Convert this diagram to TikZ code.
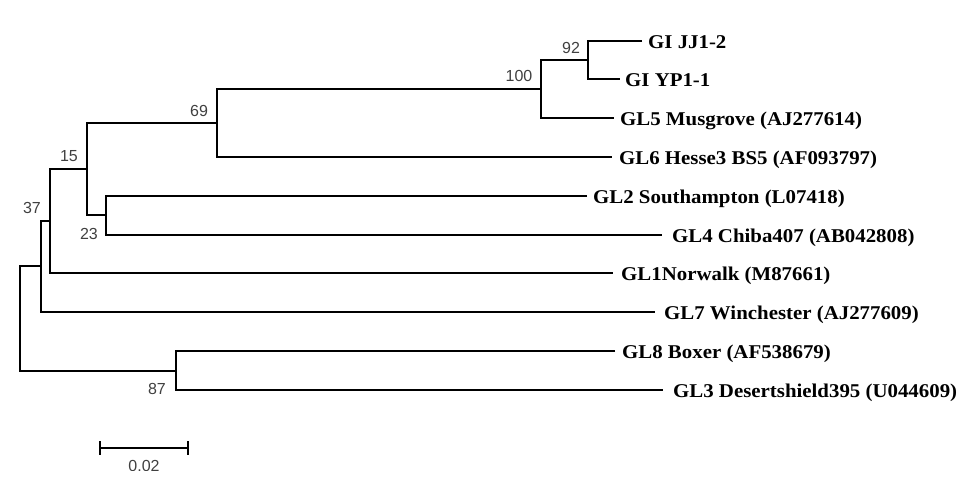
\documentclass[tikz,border=0pt]{standalone}
\usepackage{fontspec}
\setmainfont{Liberation Serif}
\newfontfamily\tipfont[FakeStretch=1.07]{Liberation Serif}
\newfontfamily\bootfont{Liberation Sans}
\begin{document}
\begin{tikzpicture}[x=1bp,y=-1bp,
  branch/.style={line width=2bp,line join=miter},
  tiplabel/.style={anchor=base west,inner sep=0pt,font=\tipfont\bfseries\fontsize{19.5bp}{20bp}\selectfont},
  boot/.style={inner sep=0pt,text=black!75,font=\bootfont\fontsize{16bp}{17bp}\selectfont}]
\useasboundingbox (0,0) rectangle (976,485);
% tips
\coordinate (tJJ) at (642,41);
\coordinate (tYP) at (620,79);
\coordinate (tG5) at (614,118);
\coordinate (tG6) at (612,157);
\coordinate (tG2) at (587,196);
\coordinate (tG4) at (662,235);
\coordinate (tG1) at (613,273);
\coordinate (tG7) at (655,312);
\coordinate (tG8) at (615,351);
\coordinate (tG3) at (663,390);
% internal nodes
\coordinate (n92) at (588,60);
\coordinate (n100) at (541,89);
\coordinate (n69) at (217,123);
\coordinate (n23) at (106,215.5);
\coordinate (n15) at (87,169);
\coordinate (n37) at (50,221);
\coordinate (nroot) at (41,266.5);
\coordinate (n87) at (176,370.5);
\coordinate (nR) at (20,318.5);
% branches
\draw[branch] (tJJ) -| (n92) |- (tYP);
\draw[branch] (n92) -| (n100) |- (tG5);
\draw[branch] (n100) -| (n69) |- (tG6);
\draw[branch] (tG2) -| (n23) |- (tG4);
\draw[branch] (n69) -| (n15) |- (n23);
\draw[branch] (n15) -| (n37) |- (tG1);
\draw[branch] (n37) -| (nroot) |- (tG7);
\draw[branch] (nroot) -| (nR) |- (n87);
\draw[branch] (tG8) -| (n87) |- (tG3);
% tip labels
\node[tiplabel] (lJJ) at (648,48.5) {GI JJ1-2};
\node[tiplabel] (lYP) at (625,86.5) {GI YP1-1};
\node[tiplabel] (lG5) at (620,125.5) {GL5 Musgrove (AJ277614)};
\node[tiplabel] (lG6) at (619,164.5) {GL6 Hesse3 BS5 (AF093797)};
\node[tiplabel] (lG2) at (593,203.5) {GL2 Southampton (L07418)};
\node[tiplabel] (lG4) at (672,242.5) {GL4 Chiba407 (AB042808)};
\node[tiplabel] (lG1) at (621,280.5) {GL1Norwalk (M87661)};
\node[tiplabel] (lG7) at (664,319.5) {GL7 Winchester (AJ277609)};
\node[tiplabel] (lG8) at (622,358.5) {GL8 Boxer (AF538679)};
\node[tiplabel] (lG3) at (673,397.5) {GL3 Desertshield395 (U044609)};
% bootstrap values
\node[boot] (b92) at (571,48) {92};
\node[boot] (b100) at (519,76) {100};
\node[boot] (b69) at (199,111) {69};
\node[boot] (b15) at (69,156) {15};
\node[boot] (b37) at (32,208) {37};
\node[boot] (b23) at (89,234) {23};
\node[boot] (b87) at (157,389) {87};
% scale bar
\coordinate (s1) at (100,448);
\coordinate (s2) at (188,448);
\draw[branch] (s1) -- (s2);
\draw[branch] (s1) ++(0,-7) -- ++(0,14);
\draw[branch] (s2) ++(0,-7) -- ++(0,14);
\begin{scope}
\clip (0,0) rectangle (976,470);
\node[boot] (sl) at (144,466) {0.02};
\end{scope}
\end{tikzpicture}
\end{document}
